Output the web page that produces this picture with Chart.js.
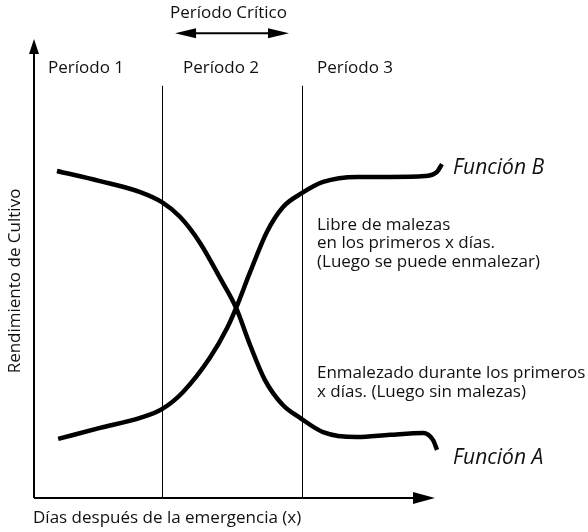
<!DOCTYPE html>
<html>
<head>
<meta charset="utf-8">
<script src="https://cdn.jsdelivr.net/npm/chart.js@4.4.0/dist/chart.umd.min.js"></script>
<style>
  html, body { margin: 0; padding: 0; background: #fff; }
  #wrap { width: 588px; height: 532px; position: relative; }
</style>
</head>
<body>
<div id="wrap"><canvas id="myChart" width="588" height="532"></canvas></div>
<script>
// Days after emergence (x, 0-100) and crop yield (0-100)
let funcA_x = [5.6, 16.1, 25.9, 31.2, 35.6, 40.5, 45.4, 49.3, 52.7, 56.3, 60.7, 64.9, 70.5, 78.8, 86.8, 94.9, 97.3, 98.3];
let funcA_y = [71.4, 69.2, 66.8, 64.6, 61.4, 55.7, 48.0, 41.5, 33.4, 25.8, 20.3, 17.5, 14.4, 13.3, 13.8, 14.2, 12.7, 10.5];

let funcB_x = [5.9, 16.1, 25.9, 31.2, 36.3, 42.9, 47.1, 49.3, 52.7, 56.8, 60.7, 65.4, 70.5, 78.8, 86.8, 95.4, 98.3, 99.5];
let funcB_y = [12.9, 15.3, 17.5, 19.4, 23.1, 30.6, 37.1, 41.5, 49.3, 58.1, 63.5, 66.6, 69.0, 70.1, 70.1, 70.3, 71.2, 72.9];

// period boundaries (x) and how high the lines go
let periodLimits = [31.34, 65.49];
let periodTop = 90;
let periodLabels = ['Período 1', 'Período 2', 'Período 3'];
let criticalRange = [34.4, 62.2];

function toPoints(xs, ys) {
    let pts = [];
    for (let i = 0; i < xs.length; i++) {
        pts.push({x: xs[i], y: ys[i]});
    }
    return pts;
}

const FONT = '"Open Sans", sans-serif';

function arrowHead(ctx, x, y, dir, len, half) {
    // dir: 'up', 'right', 'left'
    ctx.beginPath();
    if (dir === 'up') {
        ctx.moveTo(x, y);
        ctx.lineTo(x - half, y + len);
        ctx.lineTo(x + half, y + len);
    } else if (dir === 'right') {
        ctx.moveTo(x, y);
        ctx.lineTo(x - len, y - half);
        ctx.lineTo(x - len, y + half);
    } else {
        ctx.moveTo(x, y);
        ctx.lineTo(x + len, y - half);
        ctx.lineTo(x + len, y + half);
    }
    ctx.closePath();
    ctx.fill();
}

const decorations = {
    id: 'decorations',
    afterDatasetsDraw(chart) {
        const ctx = chart.ctx;
        const xs = chart.scales.x;
        const ys = chart.scales.y;
        const x0 = xs.getPixelForValue(0);
        const y0 = ys.getPixelForValue(0);
        ctx.save();
        ctx.strokeStyle = '#000';
        ctx.fillStyle = '#000';

        // axes
        ctx.lineWidth = 2;
        const yTip = ys.getPixelForValue(100.2);
        const xTip = xs.getPixelForValue(97.8);
        ctx.beginPath();
        ctx.moveTo(x0, y0);
        ctx.lineTo(x0, yTip + 10);
        ctx.moveTo(x0, y0);
        ctx.lineTo(xTip - 10, y0);
        ctx.stroke();
        arrowHead(ctx, x0, yTip, 'up', 15, 5);
        arrowHead(ctx, xTip, y0, 'right', 22, 6);

        // critical period arrow
        const cy = ys.getPixelForValue(101.5);
        const cl = xs.getPixelForValue(criticalRange[0]);
        const cr = xs.getPixelForValue(criticalRange[1]);
        ctx.lineWidth = 2;
        ctx.beginPath();
        ctx.moveTo(cl + 10, cy);
        ctx.lineTo(cr - 10, cy);
        ctx.stroke();
        arrowHead(ctx, cl, cy, 'left', 21, 5);
        arrowHead(ctx, cr, cy, 'right', 21, 5);

        // texts
        ctx.fillStyle = '#111';
        ctx.textBaseline = 'middle';
        ctx.textAlign = 'left';
        ctx.font = '17px ' + FONT;
        ctx.fillText('Período Crítico', 170, 13);
        const labelX = [48, 183, 317];
        for (let i = 0; i < periodLabels.length; i++) {
            ctx.fillText(periodLabels[i], labelX[i], 68);
        }
        ctx.fillText('Libre de malezas', 317, 225);
        ctx.fillText('en los primeros x días.', 317, 243);
        ctx.fillText('(Luego se puede enmalezar)', 317, 262);
        ctx.fillText('Enmalezado durante los primeros', 317, 373);
        ctx.fillText('x días. (Luego sin malezas)', 317, 392);
        ctx.fillText('Días después de la emergencia (x)', 33, 518);

        ctx.font = 'italic 21px ' + FONT;
        ctx.fillText('Función B', 453, 168);
        ctx.fillText('Función A', 453, 458);

        ctx.font = '17px ' + FONT;
        ctx.translate(15, 281);
        ctx.rotate(-Math.PI / 2);
        ctx.textAlign = 'center';
        ctx.fillText('Rendimiento de Cultivo', 0, 0);
        ctx.restore();
    }
};

const ctx = document.getElementById('myChart').getContext('2d');
let datasets = [
    {
        label: 'Función A',
        data: toPoints(funcA_x, funcA_y),
        borderColor: '#000',
        borderWidth: 4.5,
        cubicInterpolationMode: 'monotone',
        pointRadius: 0,
        clip: false
    },
    {
        label: 'Función B',
        data: toPoints(funcB_x, funcB_y),
        borderColor: '#000',
        borderWidth: 4.5,
        cubicInterpolationMode: 'monotone',
        pointRadius: 0,
        clip: false
    }
];
for (let i = 0; i < periodLimits.length; i++) {
    datasets.push({
        label: 'limite ' + (i + 1),
        data: [{x: periodLimits[i], y: 0}, {x: periodLimits[i], y: periodTop}],
        borderColor: '#000',
        borderWidth: 1,
        pointRadius: 0,
        clip: false
    });
}

let myChart = new Chart(ctx, {
    type: 'line',
    data: { datasets: datasets },
    options: {
        responsive: false,
        animation: false,
        layout: { padding: { left: 34, right: 144, top: 40, bottom: 34 } },
        plugins: { legend: { display: false }, tooltip: { enabled: false } },
        scales: {
            x: { type: 'linear', min: 0, max: 100, display: false },
            y: { type: 'linear', min: 0, max: 100, display: false }
        }
    },
    plugins: [decorations]
});
</script>
</body>
</html>
